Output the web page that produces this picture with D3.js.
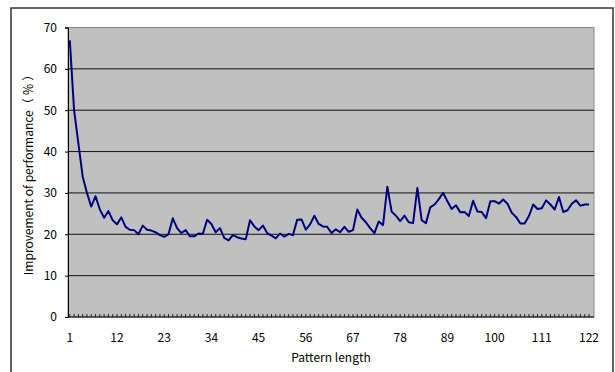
<!DOCTYPE html>
<html>
<head>
    <script src="https://d3js.org/d3.v7.min.js"></script>
    <style>
        body { margin: 0; background: #fff; }
        text { font-family: "Noto Sans CJK JP", "DejaVu Sans", sans-serif; fill: #000; }
    </style>
</head>
<body>
<script>
    // pattern lengths 1..122
    const lengths = d3.range(1, 123)
    const improvement = [
        66.9, 50.0, 42.0, 34.0, 30.0, 26.7, 29.2, 26.0, 24.0, 25.6,
        23.4, 22.4, 24.1, 21.8, 21.1, 21.0, 20.0, 22.1, 21.1, 20.9,
        20.5, 19.8, 19.4, 20.0, 23.9, 21.5, 20.3, 21.0, 19.5, 19.5,
        20.2, 20.1, 23.5, 22.5, 20.5, 21.5, 19.1, 18.5, 19.8, 19.3,
        19.0, 18.8, 23.4, 21.9, 21.0, 22.1, 20.3, 19.7, 19.0, 20.2,
        19.4, 20.1, 19.8, 23.5, 23.6, 21.1, 22.4, 24.5, 22.5, 21.9,
        21.8, 20.3, 21.2, 20.5, 21.8, 20.6, 21.0, 26.0, 24.0, 22.9,
        21.5, 20.3, 23.1, 22.2, 31.5, 25.5, 24.5, 23.2, 24.5, 22.9,
        22.7, 31.2, 23.4, 22.7, 26.5, 27.2, 28.5, 30.0, 28.0, 26.1,
        27.0, 25.3, 25.4, 24.4, 28.1, 25.5, 25.4, 23.9, 28.0, 28.0,
        27.4, 28.4, 27.4, 25.2, 24.2, 22.6, 22.6, 24.4, 27.2, 26.1,
        26.3, 28.2, 27.2, 26.0, 29.0, 25.4, 25.8, 27.4, 28.2, 26.9,
        27.2, 27.2
    ]
    const xTicks = [1, 12, 23, 34, 45, 56, 67, 78, 89, 100, 111, 122]
    const yTicks = [0, 10, 20, 30, 40, 50, 60, 70]

    const W = 615, H = 372
    const plot = { left: 68, right: 594, top: 27.5, bottom: 317 }

    let svg = d3.select('body')
        .append('svg')
        .attr('width', W)
        .attr('height', H)

    // outer chart frame
    svg.append('rect')
        .attr('x', 11).attr('y', 8)
        .attr('width', 602).attr('height', 380)
        .attr('fill', '#fff')
        .attr('stroke', '#333')
        .attr('stroke-width', 1.5)

    let x = d3.scaleLinear()
        .domain([1, 122])
        .range([69.8, 589])

    let y = d3.scaleLinear()
        .domain([0, 70])
        .range([plot.bottom, plot.top])

    // plot area
    svg.append('rect')
        .attr('x', plot.left).attr('y', plot.top)
        .attr('width', plot.right - plot.left)
        .attr('height', plot.bottom - plot.top)
        .attr('fill', '#c0c0c0')
        .attr('stroke', '#8a8a8a')
        .attr('stroke-width', 1)

    // gridlines
    svg.append('g')
        .selectAll('line')
        .data(yTicks.filter(d => d > 0 && d < 70))
        .enter()
        .append('line')
        .attr('x1', plot.left).attr('x2', plot.right)
        .attr('y1', d => y(d)).attr('y2', d => y(d))
        .attr('stroke', '#111')
        .attr('stroke-width', 1)

    // y axis
    let yAxis = svg.append('g')
        .attr('transform', `translate(${plot.left},0)`)
        .call(d3.axisLeft(y).tickValues(yTicks).tickSize(3).tickPadding(8))
    yAxis.select('.domain').attr('stroke', '#000')
    yAxis.selectAll('text').attr('font-size', 12)

    // x axis: baseline with small inward ticks at each category
    svg.append('g')
        .selectAll('line')
        .data(lengths)
        .enter()
        .append('line')
        .attr('x1', d => x(d)).attr('x2', d => x(d))
        .attr('y1', plot.bottom).attr('y2', plot.bottom - 3)
        .attr('stroke', '#000')
        .attr('stroke-width', 0.8)
    svg.append('line')
        .attr('x1', plot.left).attr('x2', plot.right)
        .attr('y1', plot.bottom).attr('y2', plot.bottom)
        .attr('stroke', '#000')
        .attr('stroke-width', 1.2)

    svg.append('g')
        .selectAll('text')
        .data(xTicks)
        .enter()
        .append('text')
        .attr('x', d => x(d))
        .attr('y', 342)
        .attr('text-anchor', 'middle')
        .attr('font-size', 12)
        .text(d => d)

    // axis titles
    svg.append('text')
        .attr('x', 331).attr('y', 362)
        .attr('text-anchor', 'middle')
        .attr('font-size', 12)
        .text('Pattern length')

    svg.append('text')
        .attr('transform', 'translate(33,172) rotate(-90)')
        .attr('text-anchor', 'middle')
        .attr('font-size', 12)
        .text('Improvement of performance（ ％ ）')

    // data line
    let line = d3.line()
        .x((d, i) => x(lengths[i]))
        .y(d => y(d))

    svg.append('path')
        .attr('d', line(improvement))
        .attr('fill', 'none')
        .attr('stroke', '#000080')
        .attr('stroke-width', 2)
        .attr('stroke-linejoin', 'round')
</script>
</body>
</html>
